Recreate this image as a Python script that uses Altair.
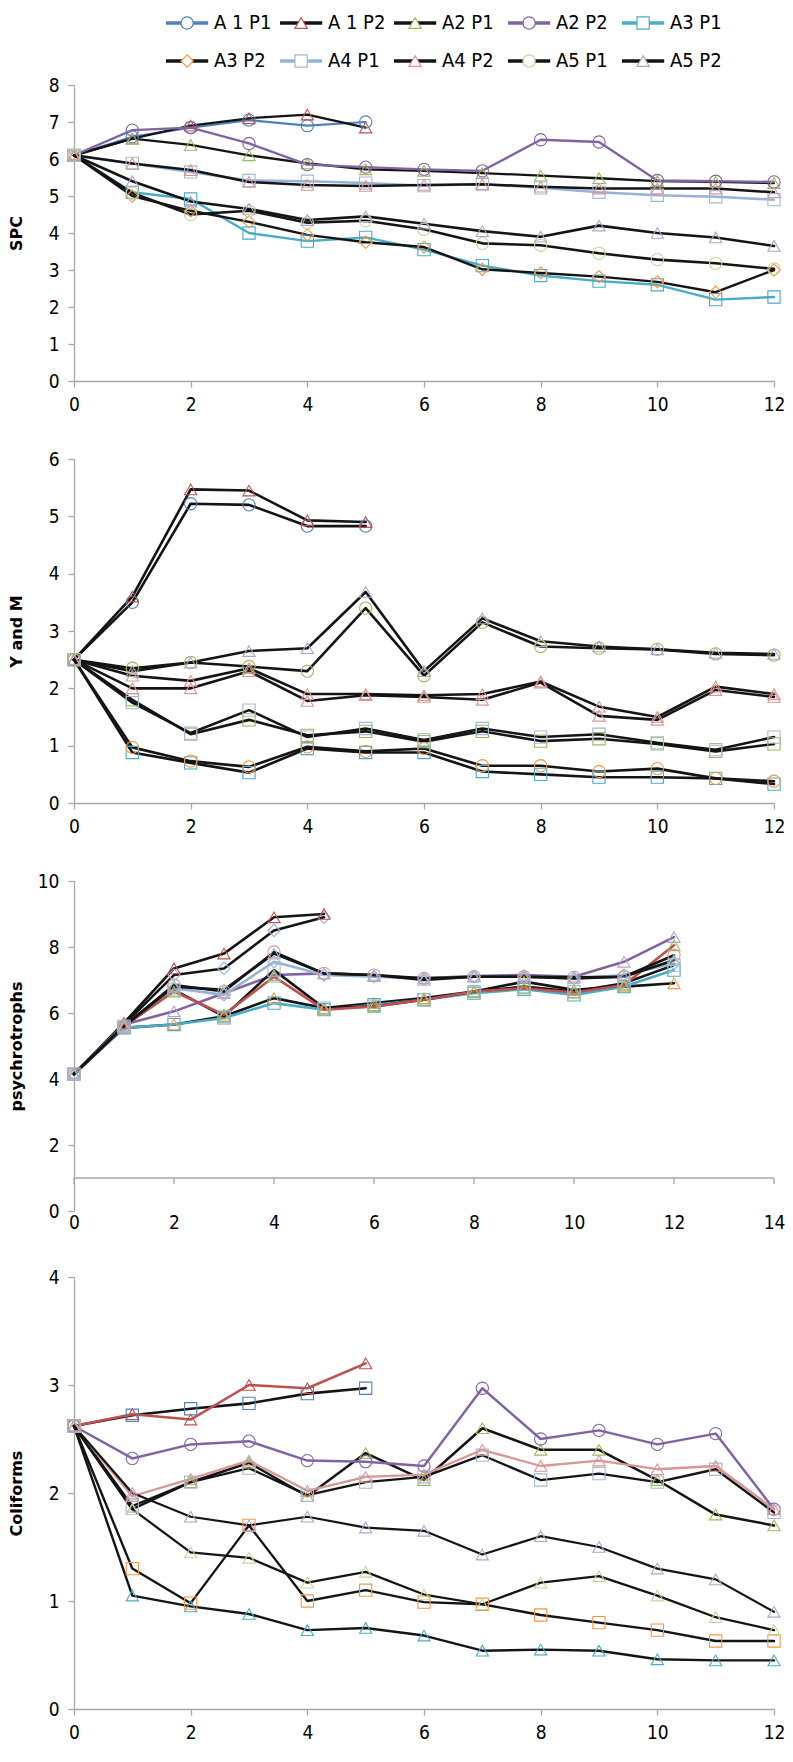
import altair as alt
import pandas as pd

# ---------------- data ----------------
series = ["A 1 P1", "A 1 P2", "A2 P1", "A2 P2", "A3 P1", "A3 P2", "A4 P1", "A4 P2", "A5 P1", "A5 P2"]

# SPC
spc = {
    "A 1 P1": [6.1, 6.6, 6.85, 7.05, 6.9, 7.0],
    "A 1 P2": [6.1, 6.55, 6.9, 7.1, 7.2, 6.85],
    "A2 P1": [6.1, 6.55, 6.38, 6.1, 5.88, 5.72, 5.68, 5.62, 5.55, 5.48, 5.4, 5.38, 5.35],
    "A2 P2": [6.1, 6.78, 6.85, 6.42, 5.85, 5.78, 5.72, 5.68, 6.52, 6.46, 5.42, 5.4, 5.38],
    "A3 P1": [6.1, 5.1, 4.92, 4.0, 3.78, 3.88, 3.55, 3.12, 2.85, 2.7, 2.6, 2.2, 2.27],
    "A3 P2": [6.1, 5.0, 4.6, 4.3, 3.95, 3.75, 3.62, 3.02, 2.92, 2.82, 2.68, 2.4, 3.0],
    "A4 P1": [6.1, 5.88, 5.65, 5.42, 5.4, 5.35, 5.28, 5.32, 5.22, 5.1, 5.02, 4.98, 4.9],
    "A4 P2": [6.1, 5.88, 5.7, 5.38, 5.3, 5.27, 5.3, 5.32, 5.25, 5.2, 5.2, 5.2, 5.1],
    "A5 P1": [6.1, 5.08, 4.5, 4.6, 4.28, 4.33, 4.1, 3.72, 3.67, 3.45, 3.28, 3.18, 3.03],
    "A5 P2": [6.1, 5.4, 4.85, 4.65, 4.35, 4.45, 4.25, 4.05, 3.9, 4.2, 4.0, 3.88, 3.65],
}

# Y and M
yam = {
    "A 1 P1": [2.5, 3.5, 5.22, 5.2, 4.83, 4.83],
    "A 1 P2": [2.5, 3.6, 5.47, 5.45, 4.93, 4.9],
    "A2 P1": [2.5, 1.8, 1.2, 1.45, 1.18, 1.25, 1.07, 1.25, 1.08, 1.12, 1.03, 0.9, 1.03],
    "A2 P2": [2.5, 2.0, 2.0, 2.3, 1.78, 1.88, 1.85, 1.8, 2.1, 1.52, 1.45, 1.97, 1.85],
    "A3 P1": [2.5, 0.88, 0.7, 0.53, 0.95, 0.88, 0.88, 0.55, 0.5, 0.45, 0.45, 0.43, 0.33],
    "A3 P2": [2.5, 0.97, 0.73, 0.63, 0.98, 0.9, 0.95, 0.65, 0.65, 0.55, 0.6, 0.43, 0.38],
    "A4 P1": [2.5, 1.75, 1.22, 1.62, 1.15, 1.3, 1.1, 1.3, 1.15, 1.2, 1.05, 0.93, 1.15],
    "A4 P2": [2.5, 2.22, 2.13, 2.35, 1.9, 1.9, 1.88, 1.9, 2.12, 1.68, 1.5, 2.03, 1.9],
    "A5 P1": [2.5, 2.35, 2.45, 2.38, 2.3, 3.4, 2.22, 3.15, 2.73, 2.7, 2.68, 2.6, 2.58],
    "A5 P2": [2.5, 2.3, 2.45, 2.65, 2.7, 3.68, 2.3, 3.22, 2.82, 2.73, 2.68, 2.62, 2.6],
}

# psychrotrophs
psy = {
    "A 1 P1": [4.15, 5.65, 7.15, 7.35, 8.5, 8.9],
    "A 1 P2": [4.15, 5.7, 7.35, 7.8, 8.9, 9.0],
    "A2 P1": [4.15, 5.55, 5.65, 5.9, 6.45, 6.15, 6.3, 6.45, 6.65, 6.95, 6.7, 6.8, 6.9],
    "A2 P2": [4.15, 5.65, 6.05, 6.6, 7.15, 7.2, 7.12, 7.05, 7.12, 7.15, 7.1, 7.55, 8.3],
    "A3 P1": [4.15, 5.55, 5.65, 5.85, 6.3, 6.1, 6.25, 6.4, 6.6, 6.72, 6.55, 6.8, 7.3],
    "A3 P2": [4.15, 5.6, 6.7, 5.9, 7.3, 6.15, 6.2, 6.4, 6.65, 6.8, 6.65, 6.9, 7.45],
    "A4 P1": [4.15, 5.6, 6.75, 6.55, 7.55, 7.15, 7.1, 7.05, 7.1, 7.1, 7.05, 7.15, 7.5],
    "A4 P2": [4.15, 5.6, 6.65, 5.95, 7.1, 6.1, 6.2, 6.4, 6.65, 6.75, 6.62, 6.85, 8.05],
    "A5 P1": [4.15, 5.6, 6.85, 6.65, 7.85, 7.2, 7.15, 7.05, 7.1, 7.1, 7.08, 7.1, 7.75],
    "A5 P2": [4.15, 5.6, 6.8, 6.7, 7.8, 7.2, 7.15, 7.0, 7.1, 7.1, 7.05, 7.1, 7.6],
}
psy_axis_cross = 1  # the horizontal axis of this panel crosses the value axis at 1

# Coliforms
coli = {
    "A 1 P1": [2.62, 2.72, 2.78, 2.83, 2.92, 2.97],
    "A 1 P2": [2.62, 2.73, 2.68, 3.0, 2.97, 3.2],
    "A2 P1": [2.62, 1.85, 2.1, 2.28, 1.97, 2.37, 2.12, 2.6, 2.4, 2.4, 2.12, 1.8, 1.7],
    "A2 P2": [2.62, 2.32, 2.45, 2.48, 2.3, 2.29, 2.25, 2.97, 2.5, 2.58, 2.45, 2.55, 1.85],
    "A3 P1": [2.62, 1.05, 0.95, 0.88, 0.73, 0.75, 0.68, 0.54, 0.55, 0.54, 0.46, 0.45, 0.45],
    "A3 P2": [2.62, 1.3, 0.98, 1.7, 1.0, 1.1, 0.99, 0.97, 0.87, 0.8, 0.73, 0.63, 0.63],
    "A4 P1": [2.62, 1.88, 2.1, 2.23, 1.98, 2.1, 2.15, 2.35, 2.12, 2.18, 2.1, 2.22, 1.82],
    "A4 P2": [2.62, 1.97, 2.13, 2.3, 2.02, 2.15, 2.17, 2.4, 2.25, 2.3, 2.22, 2.25, 1.85],
    "A5 P1": [2.62, 1.85, 1.45, 1.4, 1.17, 1.27, 1.06, 0.97, 1.17, 1.23, 1.05, 0.85, 0.73],
    "A5 P2": [2.62, 2.0, 1.78, 1.7, 1.78, 1.68, 1.65, 1.43, 1.6, 1.5, 1.3, 1.2, 0.9],
}

# ---------------- styles ----------------
BLK = "#141414"
BLUE, RED, OLIVE, PURPLE, TEAL, ORANGE = "#4f81bd", "#c0504d", "#9bbb59", "#8064a2", "#4bacc6", "#f79646"
LBLUE, PINK, BEIGE, LAV, GRAYB = "#95b3d7", "#d99694", "#c3d69b", "#b3a2c7", "#a6b8cf"

legend_line = [BLUE, BLK, BLK, PURPLE, TEAL, BLK, LBLUE, BLK, BLK, BLK]
legend_shape = ["circle", "triangle-up", "triangle-up", "circle", "square", "diamond", "square", "triangle-up", "circle", "triangle-up"]
legend_mcol = [BLUE, RED, OLIVE, PURPLE, TEAL, ORANGE, GRAYB, PINK, BEIGE, LAV]

p1_line = [BLUE, BLK, BLK, PURPLE, TEAL, BLK, LBLUE, BLK, BLK, BLK]
p1_shape = legend_shape
p1_mcol = legend_mcol

p2_line = [BLK] * 10
p2_shape = ["circle", "triangle-up", "square", "triangle-up", "square", "circle", "square", "triangle-up", "circle", "triangle-up"]
p2_mcol = [BLUE, RED, OLIVE, PINK, TEAL, ORANGE, GRAYB, PINK, OLIVE, LAV]

p3_line = [BLK, BLK, BLK, PURPLE, TEAL, BLK, LBLUE, RED, BLK, BLK]
p3_shape = ["diamond", "triangle-up", "triangle-up", "triangle-up", "square", "square", "diamond", "triangle-up", "circle", "triangle-up"]
p3_mcol = [LBLUE, RED, ORANGE, LAV, TEAL, GRAYB, LBLUE, OLIVE, PINK, GRAYB]

p4_line = [BLK, RED, BLK, PURPLE, BLK, BLK, BLK, PINK, BLK, BLK]
p4_shape = ["square", "triangle-up", "triangle-up", "circle", "triangle-up", "square", "square", "triangle-up", "triangle-up", "triangle-up"]
p4_mcol = [BLUE, RED, OLIVE, PURPLE, TEAL, ORANGE, GRAYB, PINK, BEIGE, LAV]

LABEL_FONT = "Liberation Sans Narrow, DejaVu Sans Condensed, Liberation Sans, sans-serif"
TITLE_FONT = "DejaVu Sans, Verdana, sans-serif"
AX = "#a6a6a6"
W = 700

INDEP = dict(color="independent", stroke="independent", shape="independent", strokeWidth="independent")


def to_df(d):
    rows = []
    for s in series:
        for i, v in enumerate(d[s]):
            rows.append({"series": s, "day": i, "value": v})
    return pd.DataFrame(rows)


def panel(d, line_cols, shapes, mcols, ymax, ystep, xmax, height, title, tsize, cross=None):
    df = to_df(d)
    widths = [2.6 if c == BLK else 2.2 for c in line_cols]
    unit = height / ymax
    xticks = list(range(0, xmax + 1, 2))
    xaxis_kw = dict(values=xticks, title=None, grid=False,
                    domainColor=AX, tickColor=AX, tickSize=6, domainWidth=1.3, tickWidth=1.3,
                    labelFont=LABEL_FONT, labelFontSize=19, labelColor="#000", labelPadding=8,
                    labelFlush=False)
    if cross is not None:
        xaxis_kw.update(domain=False, ticks=False, tickSize=0, labelPadding=2)
    xs = alt.Scale(domain=[0, xmax], nice=False)
    ysc = alt.Scale(domain=[0, ymax], nice=False)
    x = alt.X("day:Q", scale=xs, axis=alt.Axis(**xaxis_kw))
    yvals = [v * ystep for v in range(int(ymax / ystep) + 1)]
    y = alt.Y("value:Q", scale=ysc,
              axis=alt.Axis(values=yvals, title=title, grid=False, domainColor=AX, tickColor=AX,
                            tickSize=6, domainWidth=1.3, tickWidth=1.3,
                            labelFont=LABEL_FONT, labelFontSize=19, labelColor="#000", labelPadding=9,
                            titleFont=TITLE_FONT, titleFontSize=tsize, titleFontWeight="bold",
                            titleColor="#000", titleX=-58, titleY=height / 2, titleBaseline="middle",
                            titleAngle=270, titleAlign="center"))
    base = alt.Chart(df)
    lines = base.mark_line(strokeJoin="round", strokeCap="round").encode(
        x=x, y=y,
        color=alt.Color("series:N", scale=alt.Scale(domain=series, range=line_cols), legend=None),
        strokeWidth=alt.StrokeWidth("series:N", scale=alt.Scale(domain=series, range=widths), legend=None),
    )
    pts = base.mark_point(filled=False, size=150, strokeWidth=1.1, opacity=1).encode(
        x=x, y=y,
        stroke=alt.Stroke("series:N", scale=alt.Scale(domain=series, range=mcols), legend=None),
        shape=alt.Shape("series:N", scale=alt.Scale(domain=series, range=shapes), legend=None),
    )
    layers = [lines, pts]
    if cross is not None:
        # horizontal axis line crossing the value axis at `cross`, with ticks pointing down
        ax_df = pd.DataFrame({"x0": [0], "x1": [xmax], "yc": [cross]})
        ax_line = alt.Chart(ax_df).mark_rule(color=AX, strokeWidth=1.3).encode(
            x=alt.X("x0:Q", scale=xs), x2="x1:Q", y=alt.Y("yc:Q", scale=ysc))
        tk_df = pd.DataFrame({"xt": xticks, "yc": [cross] * len(xticks)})
        tk = alt.Chart(tk_df).transform_calculate(
            yb="datum.yc - %f" % (6.0 / unit)
        ).mark_rule(color=AX, strokeWidth=1.3).encode(
            x=alt.X("xt:Q", scale=xs), y=alt.Y("yc:Q", scale=ysc), y2="yb:Q")
        layers = [ax_line, tk, lines, pts]
    return alt.layer(*layers).properties(width=W, height=height)


# ---------------- legend ----------------
leg_df = pd.DataFrame({
    "series": series,
    "col": [i % 5 for i in range(10)],
    "row": [i // 5 for i in range(10)],
})
LH = 64
COLW = 114.0
ROWH = 38.0
d0 = -92 / COLW
lxs = alt.Scale(domain=[d0, d0 + W / COLW], nice=False, zero=False)
r0 = -15 / ROWH
lys = alt.Scale(domain=[r0, r0 + LH / ROWH], nice=False, zero=False, reverse=True)

lbase = alt.Chart(leg_df).transform_calculate(
    xe="datum.col + 0.37", xm="datum.col + 0.185", xt="datum.col + 0.42"
)
l_rule = lbase.mark_rule(strokeWidth=3.5).encode(
    x=alt.X("col:Q", scale=lxs, axis=None),
    x2="xe:Q",
    y=alt.Y("row:Q", scale=lys, axis=None),
    color=alt.Color("series:N", scale=alt.Scale(domain=series, range=legend_line), legend=None),
)
l_pt = lbase.mark_point(filled=True, fill="white", size=150, strokeWidth=1.2, opacity=1).encode(
    x=alt.X("xm:Q", scale=lxs, axis=None),
    y=alt.Y("row:Q", scale=lys, axis=None),
    stroke=alt.Stroke("series:N", scale=alt.Scale(domain=series, range=legend_mcol), legend=None),
    shape=alt.Shape("series:N", scale=alt.Scale(domain=series, range=legend_shape), legend=None),
)
l_txt = lbase.mark_text(align="left", baseline="middle", font=LABEL_FONT, fontSize=20, color="#000").encode(
    x=alt.X("xt:Q", scale=lxs, axis=None),
    y=alt.Y("row:Q", scale=lys, axis=None),
    text="series:N",
)
legend = alt.layer(l_rule, l_pt, l_txt).properties(width=W, height=LH)

p1 = panel(spc, p1_line, p1_shape, p1_mcol, 8, 1, 12, 296, "SPC", 16)
p2 = panel(yam, p2_line, p2_shape, p2_mcol, 6, 1, 12, 344, "Y and M", 16)
p3 = panel(psy, p3_line, p3_shape, p3_mcol, 10, 2, 14, 330, "psychrotrophs", 16, cross=psy_axis_cross)
p4 = panel(coli, p4_line, p4_shape, p4_mcol, 4, 1, 12, 432, "Coliforms", 16)

inner = alt.vconcat(p1, p2, p3, p4, spacing=36).resolve_scale(**INDEP)
chart = (
    alt.vconcat(legend, inner, spacing=4, padding=0)
    .resolve_scale(**INDEP)
    .configure_view(stroke=None)
)

chart.save("out.html", embed_options={"renderer": "svg", "actions": False})
